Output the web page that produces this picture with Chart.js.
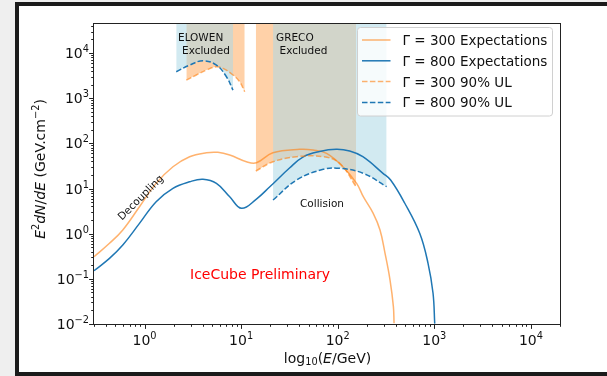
<!DOCTYPE html>
<html><head><meta charset="utf-8">
<script src="https://cdn.jsdelivr.net/npm/chart.js@4/dist/chart.umd.min.js"></script>
<style>
html,body{margin:0;padding:0;background:#efefef;width:607px;height:376px;overflow:hidden;}
#frame{position:absolute;left:15px;top:2px;width:700px;height:366px;border:4px solid #1b1b1b;background:#fff;}
#wrap{position:absolute;left:0;top:0;width:607px;height:376px;}
</style></head>
<body><div id="frame"></div><div id="wrap"><canvas id="c" width="607" height="376"></canvas></div>
<script>
// ---- data (energy in GeV, E^2 dN/dE values) ----
const energyOrange = [0.3, 0.434, 0.596, 0.887, 1.32, 1.97, 2.93, 4.37, 5.75, 7.62, 11.35, 14.4, 21.3, 40.6, 55.5, 76.7, 113, 157, 184, 233, 274, 309, 348, 377, 383];
const fluxOrange   = [0.309, 0.612, 1.21, 3.95, 13.0, 30.3, 50.6, 61.9, 63.2, 55.1, 39.2, 37.2, 61.9, 73.8, 71.1, 60.1, 30.3, 13.0, 6.58, 2.82, 1.21, 0.367, 0.0942, 0.0242, 0.0104];
const energyBlue   = [0.3, 0.434, 0.596, 0.887, 1.32, 1.97, 2.93, 4.03, 5.55, 7.62, 10.1, 14.4, 19.7, 31.7, 43.6, 64.9, 96.6, 133, 182, 294, 353, 493, 706, 861, 970, 1010];
const fluxBlue     = [0.151, 0.284, 0.561, 1.69, 5.11, 10.1, 14.1, 16.0, 13.0, 6.58, 3.64, 5.85, 10.8, 28.4, 49.8, 65.9, 73.8, 67.6, 50.6, 21.7, 15.4, 4.78, 1.02, 0.221, 0.0479, 0.0102];

const energyOrangeUlElowen = [2.71, 3.44, 4.37, 5.55, 6.49, 8.24, 9.66, 10.9];
const ulOrangeElowen       = [2520, 3260, 4200, 4970, 4580, 3260, 2310, 1390];
const energyBlueUlElowen   = [2.13, 2.93, 4.03, 5.55, 7.05, 8.24];
const ulBlueElowen         = [3850, 5420, 6750, 5420, 2990, 1510];

const energyOrangeUlGreco = [14.2, 21.4, 37.5, 70.8, 105, 155];
const ulOrangeGreco       = [24.4, 39.2, 50.6, 50.6, 36.1, 11.0];
const energyBlueUlGreco   = [21.4, 37.5, 70.8, 105, 184, 321];
const ulBlueGreco         = [5.56, 15.4, 26.6, 28.0, 21.7, 11.0];

const xTickValues = [1, 10, 100, 1000, 10000];
const xTickExponents = ['0', '1', '2', '3', '4'];
const yTickValues = [1e-2, 1e-1, 1, 10, 100, 1000, 10000];
const yTickExponents = ['\u22122', '\u22121', '0', '1', '2', '3', '4'];
const legendLabels = ['\u0393 = 300 Expectations', '\u0393 = 800 Expectations', '\u0393 = 300 90% UL', '\u0393 = 800 90% UL'];

// ---- styles ----
const ORANGE_LINE = 'rgba(255,127,14,0.6)';
const BLUE_LINE = '#1f77b4';
const ORANGE_FILL = 'rgba(255,127,14,0.36)';
const BLUE_FILL = 'rgba(173,216,230,0.55)';
const DASH = [5.5, 2.4];
const FONT = '"DejaVu Sans", sans-serif';

const pts = (xs, ys) => xs.map((x, i) => ({x: x, y: ys[i]}));

function drawRuns(ctx, runs, x, y, align) {
  let w = 0;
  runs.forEach(r => { ctx.font = r.font; r.w = ctx.measureText(r.t).width; w += r.w; });
  let cx = align === 'center' ? x - w / 2 : (align === 'right' ? x - w : x);
  ctx.textAlign = 'left';
  ctx.textBaseline = 'alphabetic';
  runs.forEach(r => { ctx.font = r.font; ctx.fillText(r.t, cx, y + (r.dy || 0)); cx += r.w; });
}

const decor = {
  id: 'decor',
  afterDraw(chart) {
    const ctx = chart.ctx, a = chart.chartArea;
    const xs = chart.scales.x, ys = chart.scales.y;
    ctx.save();
    // spines
    ctx.strokeStyle = '#222'; ctx.lineWidth = 1;
    ctx.strokeRect(Math.round(a.left) - 0.5, Math.round(a.top) - 0.5, Math.round(a.right - a.left) + 1, Math.round(a.bottom - a.top) + 1);
    // ticks
    ctx.beginPath();
    for (let k = -1; k <= 4; k++) {
      for (let m = 1; m <= 9; m++) {
        const v = m * Math.pow(10, k);
        if (v < xs.min || v > xs.max) continue;
        const px = Math.round(xs.getPixelForValue(v)) + 0.5;
        const len = m === 1 ? 4.9 : 2.8;
        ctx.moveTo(px, a.bottom); ctx.lineTo(px, a.bottom + len);
      }
    }
    for (let k = -2; k <= 4; k++) {
      for (let m = 1; m <= 9; m++) {
        const v = m * Math.pow(10, k);
        if (v < ys.min || v > ys.max) continue;
        const py = Math.round(ys.getPixelForValue(v)) + 0.5;
        const len = m === 1 ? 4.9 : 2.8;
        ctx.moveTo(a.left, py); ctx.lineTo(a.left - len, py);
      }
    }
    ctx.stroke();
    // tick labels
    ctx.fillStyle = '#111';
    xTickValues.forEach((v, i) => {
      const px = xs.getPixelForValue(v);
      drawRuns(ctx, [{t: '10', font: '14px ' + FONT}, {t: xTickExponents[i], font: '9.8px ' + FONT, dy: -6}], px, 345, 'center');
    });
    yTickValues.forEach((v, i) => {
      const py = ys.getPixelForValue(v);
      drawRuns(ctx, [{t: '10', font: '14px ' + FONT}, {t: yTickExponents[i], font: '9.8px ' + FONT, dy: -6}], 89, py + 5, 'right');
    });
    // axis titles
    drawRuns(ctx, [
      {t: 'log', font: '14px ' + FONT},
      {t: '10', font: '9.8px ' + FONT, dy: 2.5},
      {t: '(', font: '14px ' + FONT},
      {t: 'E', font: 'italic 14px ' + FONT},
      {t: '/GeV)', font: '14px ' + FONT}
    ], 327.5, 362.5, 'center');
    ctx.save();
    ctx.translate(39.5, 169);
    ctx.rotate(-Math.PI / 2);
    drawRuns(ctx, [
      {t: 'E', font: 'italic 14px ' + FONT},
      {t: '2', font: '9.8px ' + FONT, dy: -6},
      {t: 'dN', font: 'italic 14px ' + FONT},
      {t: '/', font: '14px ' + FONT},
      {t: 'dE', font: 'italic 14px ' + FONT},
      {t: ' (GeV.cm', font: '14px ' + FONT},
      {t: '\u22122', font: '9.8px ' + FONT, dy: -6},
      {t: ')', font: '14px ' + FONT}
    ], 0, 5, 'center');
    ctx.restore();
    // annotations
    ctx.fillStyle = '#111';
    ctx.font = '10.5px ' + FONT;
    ctx.textAlign = 'left'; ctx.textBaseline = 'alphabetic';
    ctx.fillText('ELOWEN', 178, 41);
    ctx.fillText('Excluded', 182, 54);
    ctx.fillText('GRECO', 276, 41);
    ctx.fillText('Excluded', 279.5, 54);
    ctx.fillText('Collision', 300, 207);
    ctx.save();
    ctx.translate(141, 198);
    ctx.rotate(-Math.PI / 4);
    ctx.textAlign = 'center'; ctx.textBaseline = 'middle';
    ctx.fillText('Decoupling', 0, 0);
    ctx.restore();
    ctx.fillStyle = '#ff0000';
    ctx.font = '14px ' + FONT;
    ctx.textAlign = 'left'; ctx.textBaseline = 'alphabetic';
    ctx.fillText('IceCube Preliminary', 190, 279);
    // legend
    ctx.beginPath();
    ctx.roundRect(357.5, 27.5, 195, 88.5, 3);
    ctx.fillStyle = 'rgba(255,255,255,0.8)';
    ctx.fill();
    ctx.strokeStyle = '#d0d0d0'; ctx.lineWidth = 1;
    ctx.stroke();
    const styles = [[ORANGE_LINE, []], [BLUE_LINE, []], [ORANGE_LINE, DASH], [BLUE_LINE, DASH]];
    legendLabels.forEach((lab, i) => {
      const y = 40 + i * 20.8;
      ctx.beginPath();
      ctx.setLineDash(styles[i][1]);
      ctx.strokeStyle = styles[i][0]; ctx.lineWidth = 1.5;
      ctx.moveTo(362, y); ctx.lineTo(390.5, y);
      ctx.stroke();
      ctx.setLineDash([]);
      ctx.fillStyle = '#111';
      ctx.font = '13.5px ' + FONT;
      ctx.textAlign = 'left'; ctx.textBaseline = 'alphabetic';
      ctx.fillText(lab, 402.5, y + 5);
    });
    ctx.restore();
  }
};

const ulStyle = (color, fillColor) => ({
  borderColor: color, borderDash: DASH, borderWidth: 1.5, fill: 'end', backgroundColor: fillColor,
  tension: 0.4, pointRadius: 0
});

new Chart(document.getElementById('c'), {
  type: 'line',
  data: {
    datasets: [
      Object.assign({label: 'G800 UL ELOWEN', data: pts(energyBlueUlElowen, ulBlueElowen)}, ulStyle(BLUE_LINE, BLUE_FILL)),
      Object.assign({label: 'G800 UL GRECO', data: pts(energyBlueUlGreco, ulBlueGreco)}, ulStyle(BLUE_LINE, BLUE_FILL)),
      Object.assign({label: 'G300 UL ELOWEN', data: pts(energyOrangeUlElowen, ulOrangeElowen)}, ulStyle(ORANGE_LINE, ORANGE_FILL)),
      Object.assign({label: 'G300 UL GRECO', data: pts(energyOrangeUlGreco, ulOrangeGreco)}, ulStyle(ORANGE_LINE, ORANGE_FILL)),
      {label: 'G800', data: pts(energyBlue, fluxBlue), borderColor: BLUE_LINE, borderWidth: 1.5, fill: false, tension: 0.4, pointRadius: 0},
      {label: 'G300', data: pts(energyOrange, fluxOrange), borderColor: ORANGE_LINE, borderWidth: 1.5, fill: false, tension: 0.4, pointRadius: 0}
    ]
  },
  options: {
    responsive: false, animation: false, devicePixelRatio: 1,
    layout: {padding: {left: 0, top: 24, right: 47, bottom: 0}},
    plugins: {legend: {display: false}, tooltip: {enabled: false}, filler: {drawTime: 'beforeDatasetsDraw'}},
    scales: {
      x: {type: 'logarithmic', min: 0.3, max: 20000, grid: {display: false}, border: {display: false}, ticks: {display: false},
          afterFit: s => { s.height = 52; }},
      y: {type: 'logarithmic', min: 0.01, max: 44000, grid: {display: false}, border: {display: false}, ticks: {display: false},
          afterFit: s => { s.width = 94; }}
    }
  },
  plugins: [decor]
});
</script>
</body></html>
